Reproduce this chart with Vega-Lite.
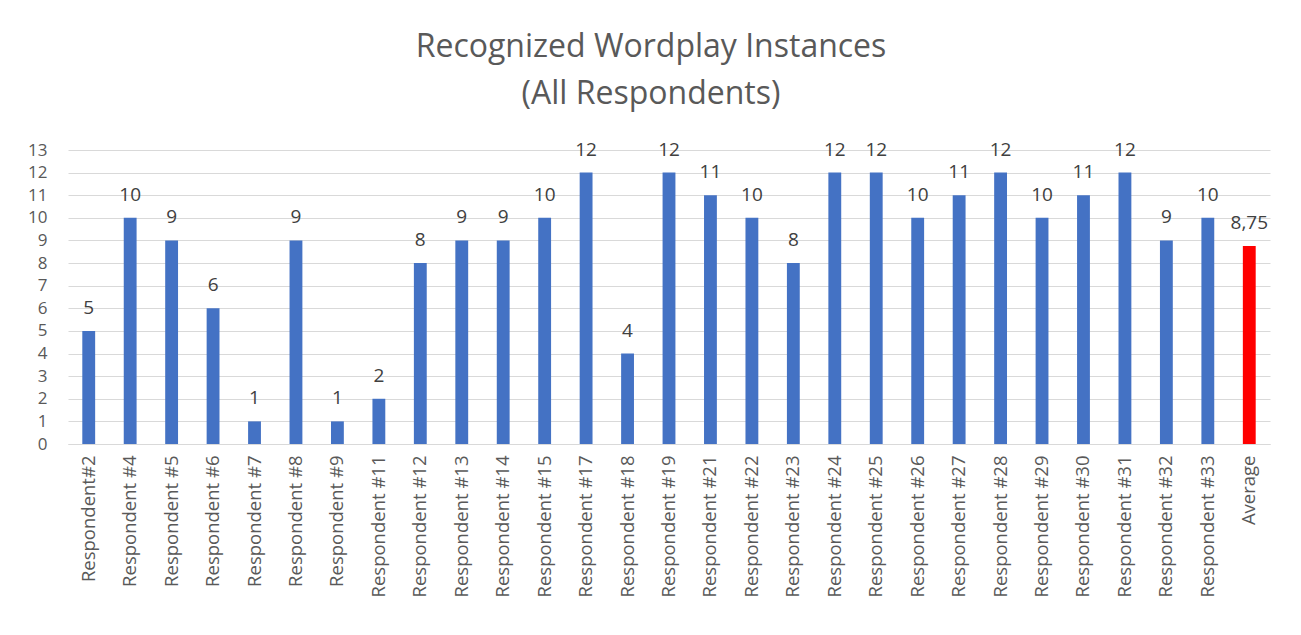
{
  "$schema": "https://vega.github.io/schema/vega-lite/v6.json",
  "width": 1202,
  "height": 294,
  "autosize": "none",
  "padding": {"left": 68, "top": 150, "right": 31, "bottom": 191},
  "background": "white",
  "config": {
    "font": "Open Sans",
    "view": {"stroke": null},
    "locale": {"number": {"decimal": ",", "thousands": ".", "grouping": [3], "currency": ["", " €"]}}
  },
  "title": {
    "text": ["Recognized Wordplay Instances", "(All Respondents)"],
    "fontSize": 32,
    "fontWeight": "normal",
    "color": "#595959",
    "lineHeight": 47,
    "offset": 30,
    "dx": -18,
    "anchor": "middle"
  },
  "data": {
    "values": [
      {"respondent": "Respondent#2", "value": 5},
      {"respondent": "Respondent #4", "value": 10},
      {"respondent": "Respondent #5", "value": 9},
      {"respondent": "Respondent #6", "value": 6},
      {"respondent": "Respondent #7", "value": 1},
      {"respondent": "Respondent #8", "value": 9},
      {"respondent": "Respondent #9", "value": 1},
      {"respondent": "Respondent #11", "value": 2},
      {"respondent": "Respondent #12", "value": 8},
      {"respondent": "Respondent #13", "value": 9},
      {"respondent": "Respondent #14", "value": 9},
      {"respondent": "Respondent #15", "value": 10},
      {"respondent": "Respondent #17", "value": 12},
      {"respondent": "Respondent #18", "value": 4},
      {"respondent": "Respondent #19", "value": 12},
      {"respondent": "Respondent #21", "value": 11},
      {"respondent": "Respondent #22", "value": 10},
      {"respondent": "Respondent #23", "value": 8},
      {"respondent": "Respondent #24", "value": 12},
      {"respondent": "Respondent #25", "value": 12},
      {"respondent": "Respondent #26", "value": 10},
      {"respondent": "Respondent #27", "value": 11},
      {"respondent": "Respondent #28", "value": 12},
      {"respondent": "Respondent #29", "value": 10},
      {"respondent": "Respondent #30", "value": 11},
      {"respondent": "Respondent #31", "value": 12},
      {"respondent": "Respondent #32", "value": 9},
      {"respondent": "Respondent #33", "value": 10},
      {"respondent": "Average", "value": 8.75}
    ]
  },
  "encoding": {
    "x": {
      "field": "respondent",
      "type": "nominal",
      "sort": null,
      "scale": {"paddingInner": 0.69, "paddingOuter": 0.345},
      "axis": {
        "title": null,
        "labelAngle": -90,
        "labelFontSize": 18.5,
        "labelColor": "#595959",
        "labelPadding": 11,
        "ticks": false,
        "domainColor": "#d9d9d9",
        "domainWidth": 1,
        "labelLimit": 200
      }
    },
    "y": {
      "field": "value",
      "type": "quantitative",
      "scale": {"domain": [0, 13]},
      "axis": {
        "title": null,
        "values": [0, 1, 2, 3, 4, 5, 6, 7, 8, 9, 10, 11, 12, 13],
        "labelFontSize": 17,
        "labelColor": "#595959",
        "labelPadding": 21,
        "ticks": false,
        "domain": false,
        "gridColor": "#d9d9d9",
        "gridWidth": 1
      }
    }
  },
  "layer": [
    {
      "mark": {"type": "bar"},
      "encoding": {
        "color": {
          "condition": {"test": "datum.respondent === 'Average'", "value": "#FF0000"},
          "value": "#4472C4"
        }
      }
    },
    {
      "mark": {"type": "text", "baseline": "bottom", "dy": -13, "fontSize": 19, "color": "#404040"},
      "encoding": {
        "text": {"field": "value", "type": "quantitative", "format": "~g"}
      }
    }
  ]
}
